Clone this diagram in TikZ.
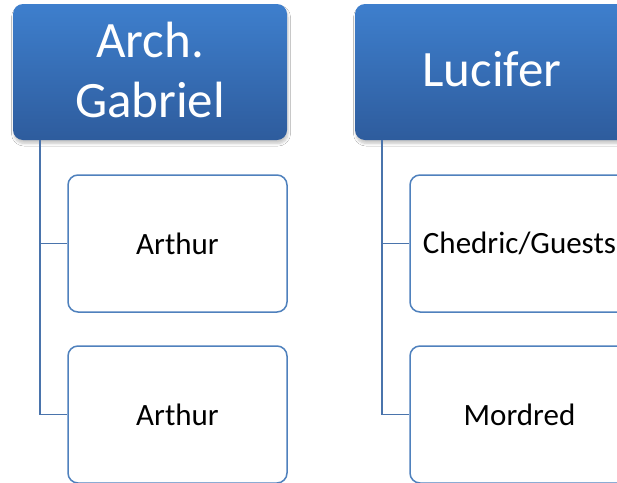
\documentclass[tikz,border=0pt]{standalone}
\usepackage{fontspec}
\setmainfont{Carlito}
\usetikzlibrary{shadows.blur}
\definecolor{headtop}{RGB}{62,127,205}
\definecolor{headbot}{RGB}{46,92,157}
\definecolor{boxline}{RGB}{79,129,189}
\definecolor{linkcol}{RGB}{74,116,172}
\tikzset{
  head/.style={rectangle, rounded corners=10pt, minimum width=274pt, minimum height=136pt,
    top color=headtop, bottom color=headbot, draw=none, inner sep=0pt,
    blur shadow={shadow xshift=1pt, shadow yshift=-3.5pt, shadow blur radius=2.5pt,
      shadow blur steps=6, shadow opacity=22}},
  headtext/.style={text=white, align=center, font=\fontsize{51}{60}\selectfont, inner sep=0pt},
  child/.style={rectangle, rounded corners=10pt, minimum width=219pt, minimum height=137pt,
    draw=boxline, line width=1.5pt, fill=white, text=black, align=center,
    font=\fontsize{31}{36}\selectfont, inner sep=0pt},
  link/.style={draw=linkcol, line width=1.6pt}
}
\begin{document}
\begin{tikzpicture}[x=1pt, y=-1pt]
  \useasboundingbox (0,0) rectangle (617,482);
  \clip (0,0) rectangle (617,482);
  \fill[white] (0,0) rectangle (617,482);

  % first column
  \node[head] (hA) at (150,72) {};
  \node[headtext] (tA) at (150,70) {Arch.\\Gabriel};
  \node[child] (cA1) at (177.5,243.5) {Arthur};
  \node[child] (cA2) at (177.5,414.5) {Arthur};
  \coordinate (jA) at (40,140);
  \draw[link] (jA) |- (cA1.west);
  \draw[link] (jA) |- (cA2.west);

  % second column
  \node[head] (hB) at (492,72) {};
  \node[headtext] (tB) at (492,69) {Lucifer};
  \node[child] (cB1) at (519.5,243.5) {Chedric/Guests};
  \node[child] (cB2) at (519.5,414.5) {Mordred};
  \coordinate (jB) at (382,140);
  \draw[link] (jB) |- (cB1.west);
  \draw[link] (jB) |- (cB2.west);
\end{tikzpicture}
\end{document}
